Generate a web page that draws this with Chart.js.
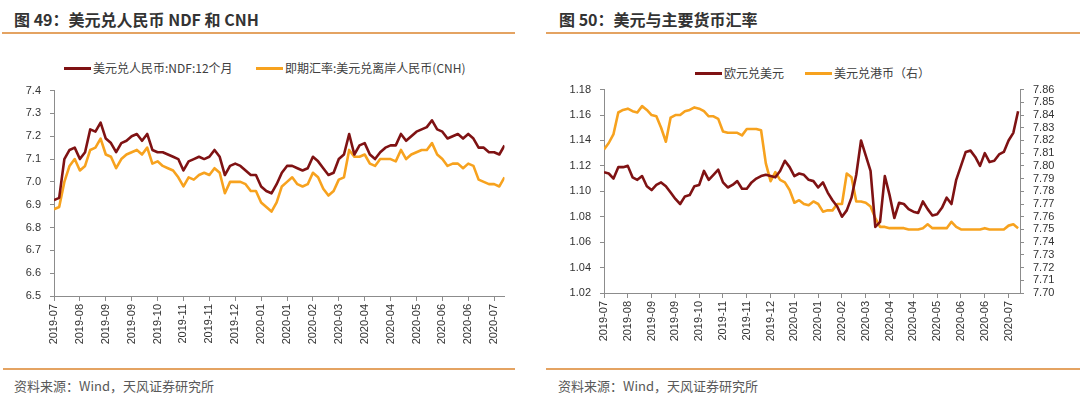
<!DOCTYPE html>
<html>
<head>
<meta charset="utf-8">
<script src="https://cdn.jsdelivr.net/npm/chart.js@4.4.1/dist/chart.umd.min.js"></script>
<style>
  html, body { margin:0; padding:0; background:#fff; }
  body { width:1080px; height:395px; position:relative; overflow:hidden;
         font-family:'Noto Sans CJK SC','Liberation Sans',sans-serif; }
  .title { position:absolute; top:7px; font-size:16px; font-weight:bold; color:#333; white-space:nowrap; }
  .rule { position:absolute; height:2px; background:#E4A362; }
  .foot { position:absolute; top:376px; font-size:13px; color:#595959; white-space:nowrap; }
  .leg { position:absolute; font-size:12px; color:#404040; white-space:nowrap; line-height:14px; }
  .sw { position:absolute; height:3px; }
  canvas { position:absolute; }
</style>
</head>
<body>
<div class="title" style="left:14px">图 49：美元兑人民币 NDF 和 CNH</div>
<div class="title" style="left:559px">图 50：美元与主要货币汇率</div>
<div class="rule" style="left:2px; width:513px; top:32px"></div>
<div class="rule" style="left:546px; width:534px; top:32px"></div>
<div class="rule" style="left:3px; width:512px; top:368px"></div>
<div class="rule" style="left:546px; width:534px; top:368px"></div>
<div class="foot" style="left:14px">资料来源：Wind，天风证券研究所</div>
<div class="foot" style="left:558px">资料来源：Wind，天风证券研究所</div>
<div id="legL"></div>
<div id="legR"></div>
<canvas id="c1" width="540" height="305" style="left:0px; top:75px;"></canvas>
<canvas id="c2" width="540" height="306" style="left:540px; top:74px;"></canvas>
<script>
// ---------- data ----------
const tickLabels49 = ['2019-07','2019-08','2019-09','2019-09','2019-10','2019-11','2019-11','2019-12','2020-01','2020-01','2020-02','2020-03','2020-04','2020-04','2020-05','2020-06','2020-06','2020-07'];
const tickLabels50 = ['2019-07','2019-08','2019-09','2019-09','2019-10','2019-11','2019-11','2019-12','2020-01','2020-01','2020-02','2020-03','2020-04','2020-04','2020-05','2020-06','2020-06','2020-07'];

const seriesNames49 = ['美元兑人民币:NDF:12个月', '即期汇率:美元兑离岸人民币(CNH)'];
const seriesNames50 = ['欧元兑美元', '美元兑港币（右）'];

const ndf12m = [
6.92,6.93,7.10,7.14,7.15,7.10,7.13,7.23,7.22,7.26,
7.19,7.17,7.13,7.17,7.18,7.20,7.21,7.18,7.21,7.14,
7.13,7.13,7.12,7.11,7.10,7.05,7.09,7.10,7.11,7.10,
7.11,7.14,7.11,7.03,7.07,7.08,7.07,7.05,7.03,7.03,
6.98,6.96,6.95,6.99,7.04,7.07,7.07,7.06,7.05,7.06,
7.11,7.09,7.06,7.03,7.04,7.10,7.12,7.21,7.12,7.16,
7.17,7.12,7.10,7.13,7.15,7.16,7.16,7.21,7.18,7.20,
7.22,7.23,7.24,7.27,7.23,7.22,7.19,7.20,7.21,7.19,
7.21,7.19,7.15,7.15,7.13,7.13,7.12,7.16];

const cnhSpot = [
6.88,6.89,7.00,7.07,7.10,7.05,7.07,7.14,7.15,7.19,
7.12,7.11,7.06,7.10,7.12,7.13,7.14,7.12,7.15,7.08,
7.09,7.07,7.06,7.05,7.02,6.98,7.02,7.01,7.03,7.04,
7.03,7.06,7.04,6.95,7.00,7.00,7.00,6.99,6.96,6.96,
6.91,6.89,6.87,6.91,6.98,7.00,7.02,6.99,6.98,6.99,
7.04,7.02,6.97,6.94,6.96,7.01,7.02,7.14,7.11,7.11,
7.12,7.08,7.07,7.10,7.10,7.10,7.09,7.14,7.10,7.12,
7.13,7.14,7.14,7.17,7.12,7.10,7.07,7.08,7.08,7.06,
7.08,7.07,7.01,7.00,6.99,6.99,6.98,7.02];

const eurusd = [
1.115,1.114,1.110,1.119,1.119,1.120,1.111,1.109,1.112,1.104,
1.101,1.105,1.107,1.104,1.099,1.094,1.090,1.096,1.097,1.104,
1.105,1.116,1.109,1.113,1.117,1.107,1.103,1.105,1.108,1.102,
1.102,1.107,1.110,1.112,1.113,1.112,1.111,1.116,1.124,1.119,
1.112,1.114,1.113,1.109,1.108,1.103,1.107,1.099,1.093,1.088,
1.080,1.085,1.095,1.113,1.140,1.128,1.116,1.072,1.076,1.112,
1.097,1.079,1.091,1.090,1.086,1.084,1.083,1.092,1.086,1.081,
1.082,1.087,1.095,1.090,1.109,1.120,1.131,1.132,1.127,1.120,
1.130,1.123,1.124,1.129,1.131,1.140,1.146,1.163];

const usdhkd = [
7.813,7.818,7.825,7.842,7.844,7.845,7.843,7.842,7.847,7.844,
7.840,7.839,7.830,7.819,7.838,7.840,7.840,7.843,7.844,7.846,
7.845,7.843,7.839,7.839,7.837,7.827,7.826,7.826,7.826,7.824,
7.829,7.829,7.829,7.828,7.802,7.788,7.795,7.789,7.787,7.781,
7.771,7.773,7.770,7.769,7.772,7.770,7.764,7.765,7.765,7.770,
7.770,7.794,7.791,7.772,7.772,7.771,7.768,7.759,7.752,7.752,
7.751,7.751,7.751,7.751,7.750,7.750,7.750,7.751,7.754,7.751,
7.751,7.751,7.751,7.756,7.752,7.750,7.750,7.750,7.750,7.750,
7.751,7.750,7.750,7.750,7.750,7.753,7.754,7.751];

const RED = '#7F1213';
const ORANGE = '#F7A21E';
const AXIS = '#8C8C8C';
const TXT = '#333333';
const PTS_PER_TICK = 5;

// ---------- legends (HTML) ----------
function legend(id, items, y) {
  const el = document.getElementById(id);
  items.forEach(it => {
    const sw = document.createElement('div');
    sw.className = 'sw';
    sw.style.cssText = `left:${it.sx}px; width:${it.sw}px; top:${y-1}px; background:${it.color}`;
    el.appendChild(sw);
    const t = document.createElement('div');
    t.className = 'leg';
    t.style.cssText = `left:${it.tx}px; top:${y-7}px`;
    t.textContent = it.text;
    el.appendChild(t);
  });
}
legend('legL', [
  {sx:64, sw:27, tx:93, color:RED, text:seriesNames49[0]},
  {sx:256, sw:27, tx:285, color:ORANGE, text:seriesNames49[1]}
], 68);
legend('legR', [
  {sx:695, sw:27, tx:724, color:RED, text:seriesNames50[0]},
  {sx:805, sw:27, tx:834, color:ORANGE, text:seriesNames50[1]}
], 73);

// ---------- charts ----------
Chart.defaults.font.family = "'Liberation Sans','Noto Sans CJK SC',sans-serif";
Chart.defaults.font.size = 11;
Chart.defaults.color = TXT;

const toXY = arr => arr.map((v, i) => ({x: i, y: v}));

function xScale(labels, max, height) {
  return {
    type: 'linear', min: 0, max: max,
    grid: { drawOnChartArea: false, drawTicks: true, tickLength: 5, color: AXIS },
    border: { display: true, color: AXIS, width: 1 },
    ticks: {
      stepSize: PTS_PER_TICK, includeBounds: false, autoSkip: false,
      minRotation: 90, maxRotation: 90, padding: 3,
      callback: v => (v % PTS_PER_TICK === 0 ? (labels[v / PTS_PER_TICK] || '') : '')
    },
    afterFit: s => { s.height = height; }
  };
}
function yScale(min, max, step, digits, width, pos) {
  return {
    type: 'linear', position: pos, min: min, max: max,
    grid: { drawOnChartArea: false, drawTicks: true, tickLength: 4, color: AXIS },
    border: { display: true, color: AXIS, width: 1 },
    ticks: { stepSize: step, padding: 9, autoSkip: false, callback: v => Number(v).toFixed(digits) },
    afterFit: s => { s.width = width; }
  };
}
const lineDs = (label, data, color, axis) => ({
  label, data: toXY(data), borderColor: color, backgroundColor: color,
  borderWidth: 2.6, pointRadius: 0, tension: 0, yAxisID: axis,
  borderJoinStyle: 'round'
});

new Chart(document.getElementById('c1'), {
  type: 'line',
  data: { datasets: [
    lineDs(seriesNames49[0], ndf12m, RED, 'y'),
    lineDs(seriesNames49[1], cnhSpot, ORANGE, 'y')
  ]},
  options: {
    responsive: false, animation: false, devicePixelRatio: 1,
    layout: { padding: { top: 6, right: 35.5, bottom: 0, left: 0 } },
    plugins: { legend: { display: false }, tooltip: { enabled: false } },
    scales: {
      x: xScale(tickLabels49, ndf12m.length - 1, 84),
      y: yScale(6.5, 7.4, 0.1, 1, 54, 'left')
    }
  }
});

new Chart(document.getElementById('c2'), {
  type: 'line',
  data: { datasets: [
    lineDs(seriesNames50[0], eurusd, RED, 'y'),
    lineDs(seriesNames50[1], usdhkd, ORANGE, 'y1')
  ]},
  options: {
    responsive: false, animation: false, devicePixelRatio: 1,
    layout: { padding: { top: 5, right: 0, bottom: 0, left: 0 } },
    plugins: { legend: { display: false }, tooltip: { enabled: false } },
    scales: {
      x: xScale(tickLabels50, 87.4, 87),
      y: yScale(1.02, 1.18, 0.02, 2, 64, 'left'),
      y1: yScale(7.70, 7.86, 0.01, 2, 60, 'right')
    }
  }
});
</script>
</body>
</html>
